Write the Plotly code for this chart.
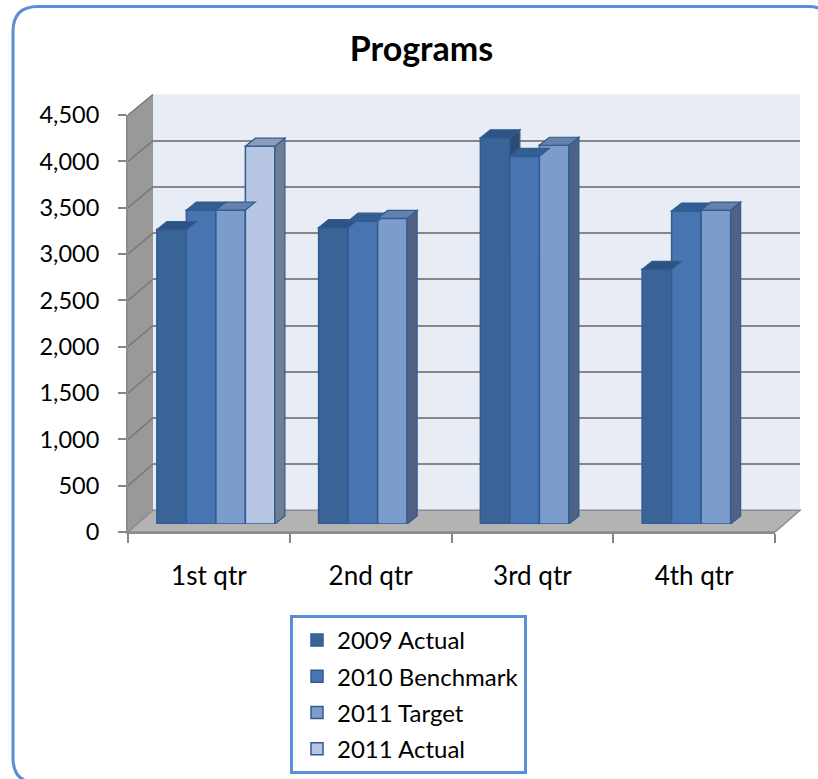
"""Programs - grafico de columnas agrupadas con aspecto 3D (estilo Excel)."""

import plotly.graph_objects as go

# Datos
quarters = ["1st qtr", "2nd qtr", "3rd qtr", "4th qtr"]
series_names = ["2009 Actual", "2010 Benchmark", "2011 Target", "2011 Actual"]
actual_2009 = [3180, 3200, 4170, 2750]
benchmark_2010 = [3390, 3270, 3970, 3380]
target_2011 = [3390, 3300, 4090, 3390]
actual_2011 = [4080, None, None, None]
y_ticks = list(range(0, 5000, 500))

series_values = [actual_2009, benchmark_2010, target_2011, actual_2011]
face_colors = ["#3A6397", "#4675B2", "#7C9CCB", "#B7C6E2"]
top_colors = ["#2E5283", "#335E93", "#6582AF", "#8C9CBA"]
side_colors = ["#2B4B74", "#33598A", "#4F6285", "#717D92"]
edge_color = "#315C90"

W, H = 818, 779
YMAX = 4500
BARGAP = 0.27
FONT = "Lato"

# Geometria en pixeles (frente, barras y pared del fondo)
FRONT = dict(x0=128, x1=775, y0=532, y1=115)
BARS = dict(x0=135, x1=782, y0=524, y1=107.3)
BACK = dict(x0=153, x1=800, y0=510.3, y1=94.5)
DX, DY = 10, 8  # profundidad de cada columna


def fx(x):
    return x / W


def fy(y):
    return 1 - y / H


def dom(box):
    return [fx(box["x0"]), fx(box["x1"])], [fy(box["y0"]), fy(box["y1"])]


def poly(points):
    path = "M " + " L ".join(f"{fx(x)},{fy(y)}" for x, y in points)
    return path + " Z"


def value_px(box, v):
    return box["y0"] - v / YMAX * (box["y0"] - box["y1"])


fig = go.Figure()

# Subplot de la pared del fondo (solo cuadricula)
fig.add_trace(go.Scatter(x=[None], y=[None], xaxis="x", yaxis="y",
                         showlegend=False, hoverinfo="skip"))

for i, (name, vals) in enumerate(zip(series_names, series_values)):
    fig.add_trace(go.Bar(
        x=quarters, y=vals, name=name,
        marker=dict(color=face_colors[i], line=dict(color=edge_color, width=1.5)),
        xaxis="x2", yaxis="y2", legendgroup=name,
    ))

# Subplot frontal: ejes, marcas y etiquetas
fig.add_trace(go.Scatter(x=quarters, y=[None] * len(quarters), xaxis="x3", yaxis="y3",
                         mode="markers", showlegend=False, hoverinfo="skip"))

shapes = []

# Borde redondeado exterior
r = 25
bx0, by0, bx1, by1 = 13, 6.5, 833, 783
border = (
    f"M {fx(bx0)},{fy(by0 + r)} Q {fx(bx0)},{fy(by0)} {fx(bx0 + r)},{fy(by0)} "
    f"L {fx(bx1 - r)},{fy(by0)} Q {fx(bx1)},{fy(by0)} {fx(bx1)},{fy(by0 + r)} "
    f"L {fx(bx1)},{fy(by1 - r)} Q {fx(bx1)},{fy(by1)} {fx(bx1 - r)},{fy(by1)} "
    f"L {fx(bx0 + r)},{fy(by1)} Q {fx(bx0)},{fy(by1)} {fx(bx0)},{fy(by1 - r)} Z"
)
shapes.append(dict(type="path", path=border, xref="paper", yref="paper",
                   line=dict(color="#5A8ED6", width=3), layer="below"))

# Pared del fondo, pared izquierda y piso
shapes.append(dict(type="rect", xref="paper", yref="paper",
                   x0=fx(BACK["x0"]), x1=fx(BACK["x1"]), y0=fy(BACK["y0"]), y1=fy(BACK["y1"]),
                   fillcolor="#E8ECF5", line=dict(width=0), layer="below"))
shapes.append(dict(type="path", xref="paper", yref="paper", layer="below",
                   path=poly([(FRONT["x0"], FRONT["y1"]), (BACK["x0"], BACK["y1"]),
                              (BACK["x0"], BACK["y0"]), (FRONT["x0"], FRONT["y0"])]),
                   fillcolor="#999999", line=dict(width=0)))
shapes.append(dict(type="path", xref="paper", yref="paper", layer="below",
                   path=poly([(FRONT["x0"], FRONT["y0"]), (FRONT["x1"], FRONT["y0"]),
                              (BACK["x1"], BACK["y0"]), (BACK["x0"], BACK["y0"])]),
                   fillcolor="#B3B3B3", line=dict(color="#8C8C8C", width=1.5)))
for v in y_ticks[1:]:
    shapes.append(dict(type="line", xref="paper", yref="paper", layer="below",
                       x0=fx(FRONT["x0"]), y0=fy(value_px(FRONT, v)),
                       x1=fx(BACK["x0"]), y1=fy(value_px(BACK, v)),
                       line=dict(color="#787878", width=1.5)))

# Caras superior y lateral de cada columna
n = len(series_names)
bar_w = (1 - BARGAP) / n
cat_px = (BARS["x1"] - BARS["x0"]) / len(quarters)
dxd = DX / cat_px
dyd = DY * YMAX / (BARS["y0"] - BARS["y1"])
sides, tops = [], []
for c in range(len(quarters)):
    for i in range(n):
        v = series_values[i][c]
        if v is None:
            continue
        x0 = c - (1 - BARGAP) / 2 + i * bar_w
        x1 = x0 + bar_w
        nxt = series_values[i + 1][c] if i + 1 < n else None
        low = nxt if nxt is not None else 0
        if low < v:
            sides.append(dict(
                type="path", xref="x2", yref="y2", layer="above",
                path=f"M {x1},{low} L {x1},{v} L {x1 + dxd},{v + dyd} L {x1 + dxd},{low + dyd} Z",
                fillcolor=side_colors[i], line=dict(color=edge_color, width=1.2)))
        tops.append(dict(
            type="path", xref="x2", yref="y2", layer="above",
            path=f"M {x0},{v} L {x1},{v} L {x1 + dxd},{v + dyd} L {x0 + dxd},{v + dyd} Z",
            fillcolor=top_colors[i], line=dict(color=edge_color, width=1.2)))
shapes += sides + tops

xd, yd = dom(BACK)
xd2, yd2 = dom(BARS)
xd3, yd3 = dom(FRONT)

fig.update_layout(
    width=W, height=H,
    margin=dict(l=0, r=0, t=0, b=0, autoexpand=False),
    paper_bgcolor="white",
    plot_bgcolor="rgba(0,0,0,0)",
    font=dict(family=FONT, size=23, color="black"),
    title=dict(text="Programs", x=fx(421.5), y=fy(49), xanchor="center", yanchor="middle",
               font=dict(family=FONT, size=34, weight="bold", color="black")),
    barmode="group", bargap=BARGAP, bargroupgap=0,
    xaxis=dict(domain=xd, range=[0, 1], visible=False),
    yaxis=dict(domain=yd, range=[0, YMAX], anchor="x", dtick=500, showgrid=True,
               gridcolor="#878787", gridwidth=2.4, zeroline=False,
               showticklabels=False, ticks=""),
    xaxis2=dict(domain=xd2, anchor="y2", range=[-0.5, 3.5], visible=False,
                type="category", categoryarray=quarters),
    yaxis2=dict(domain=yd2, anchor="x2", range=[0, YMAX], visible=False),
    xaxis3=dict(domain=xd3, anchor="y3", type="category", categoryarray=quarters,
                range=[-0.5, 3.5], tickson="boundaries", ticks="outside", ticklen=9,
                tickcolor="#868686", tickwidth=2, showline=True, linecolor="#8C8C8C",
                linewidth=2, showgrid=False, ticklabelstandoff=20,
                tickfont=dict(family=FONT, size=26, color="black")),
    yaxis3=dict(domain=yd3, anchor="x3", range=[0, YMAX], tickvals=y_ticks,
                tickformat=",", ticks="outside", ticklen=8, tickcolor="#868686",
                tickwidth=2, showline=True, linecolor="#8C8C8C", linewidth=2,
                showgrid=False, zeroline=False, ticklabelstandoff=14,
                tickfont=dict(family=FONT, size=23.5, color="black")),
    legend=dict(x=fx(290), y=fy(615), xanchor="left", yanchor="top",
                bgcolor="white", bordercolor="#5A8ED6", borderwidth=3,
                font=dict(family=FONT, size=24, color="black"),
                traceorder="grouped", tracegroupgap=2, indentation=4,
                entrywidth=215, entrywidthmode="pixels"),
    shapes=shapes,
    hovermode=False,
)

# La pagina de plotly trae el margen por defecto del body (8px); se quita
fig.write_html("out.html", config={"displayModeBar": False},
               post_script="document.body.style.margin = '0';")
